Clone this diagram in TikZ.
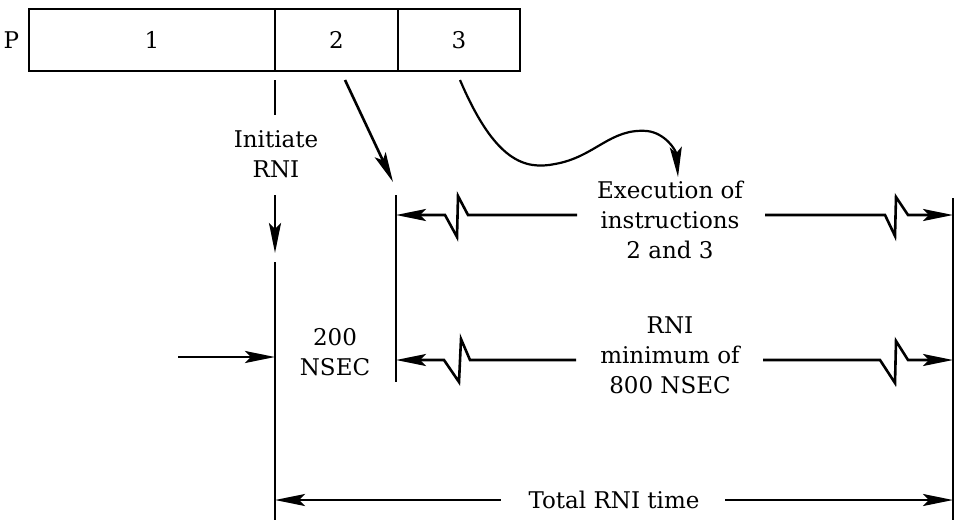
\documentclass[tikz,border=0pt]{standalone}
\usepackage{fontspec}
\setmainfont{DejaVu Serif}
\usetikzlibrary{arrows.meta, positioning}

\begin{document}
\begin{tikzpicture}[x=0.5pt, y=-0.5pt, line width=1.3pt,
    arr/.style={-{Stealth[length=15pt, width=6pt, inset=3pt]}},
    txt/.style={align=center, font=\fontsize{11.5}{15}\selectfont},
    cell/.style={draw, txt, minimum height=31pt, inner sep=0pt, outer sep=0pt}]

    % Fix the page size
    \useasboundingbox (0,0) rectangle (956,520);

    % Draw the instruction words
    \node[cell, minimum width=123pt] (word1) at (152,40) {1};
    \node[cell, minimum width=61.5pt, right=0pt of word1] (word2) {2};
    \node[cell, minimum width=61pt, right=0pt of word2] (word3) {3};
    \node[txt, left=1pt of word1] (wordP) {P};

    % Define coordinates for the time lines
    \coordinate (initTop) at (275,80);
    \coordinate (initBottom) at (275,115);
    \coordinate (initArrowStart) at (275,195);
    \coordinate (initArrowEnd) at (275,253);
    \coordinate (lineA) at (275,262);
    \coordinate (lineABottom) at (275,520);
    \coordinate (lineB) at (396,195);
    \coordinate (lineBBottom) at (396,382);
    \coordinate (lineC) at (953,198);
    \coordinate (lineCBottom) at (953,520);

    % Draw the time lines
    \draw (initTop) -- (initBottom);
    \draw[arr] (initArrowStart) -- (initArrowEnd);
    \draw (lineA) -- (lineABottom);
    \draw (lineB) -- (lineBBottom);
    \draw (lineC) -- (lineCBottom);

    % Label the time lines
    \node[txt] (initiate) at (276,154) {Initiate\\RNI};
    \node[txt] (execution) at (670,220) {Execution of\\instructions\\2 and 3};
    \node[txt] (minimum) at (670,355) {RNI\\minimum of\\800 NSEC};
    \node[txt] (twoHundred) at (335,352) {200\\NSEC};
    \node[txt] (total) at (614,500) {Total RNI time};

    % Draw arrows from the instruction words
    \coordinate (fromWord2) at (345,80);
    \coordinate (toLineB) at (393,182);
    \draw[arr] (fromWord2) -- (toLineB);
    \coordinate (fromWord3) at (460,80);
    \coordinate (toExecution) at (678,177);
    \draw[arr, line width=1.1pt] (fromWord3)
        .. controls (495,162) and (525,170) .. (555,164)
        .. controls (595,157) and (610,128) .. (647,131)
        .. controls (665,133) and (676,150) .. (toExecution);

    % Define coordinates for the broken arrows
    \coordinate (execRow) at (0,215);
    \coordinate (minRow) at (0,360);
    \coordinate (execLeft) at (577,215);
    \coordinate (execRight) at (765,215);
    \coordinate (minLeft) at (576,360);
    \coordinate (minRight) at (763,360);

    % Draw the broken arrows
    \draw[arr] (execLeft) -- (468,215) -- ++(-10,-19) -- ++(-1,41) -- ++(-12,-22) -- (lineB |- execRow);
    \draw[arr] (execRight) -- (885,215) -- ++(10,21) -- ++(1,-39) -- ++(12,18) -- (lineC |- execRow);
    \draw[arr] (minLeft) -- (470,360) -- ++(-9,-21) -- ++(-2,43) -- ++(-15,-22) -- (lineB |- minRow);
    \draw[arr] (minRight) -- (880,360) -- ++(15,23) -- ++(1,-42) -- ++(12,19) -- (lineC |- minRow);

    % Draw the remaining arrows
    \coordinate (enterStart) at (178,357);
    \draw[arr] (enterStart) -- (enterStart -| lineA);
    \draw[arr] ([xshift=-10pt]total.west) -- (total.west -| lineA);
    \draw[arr] ([xshift=9pt]total.east) -- (total.east -| lineC);

\end{tikzpicture}
\end{document}
